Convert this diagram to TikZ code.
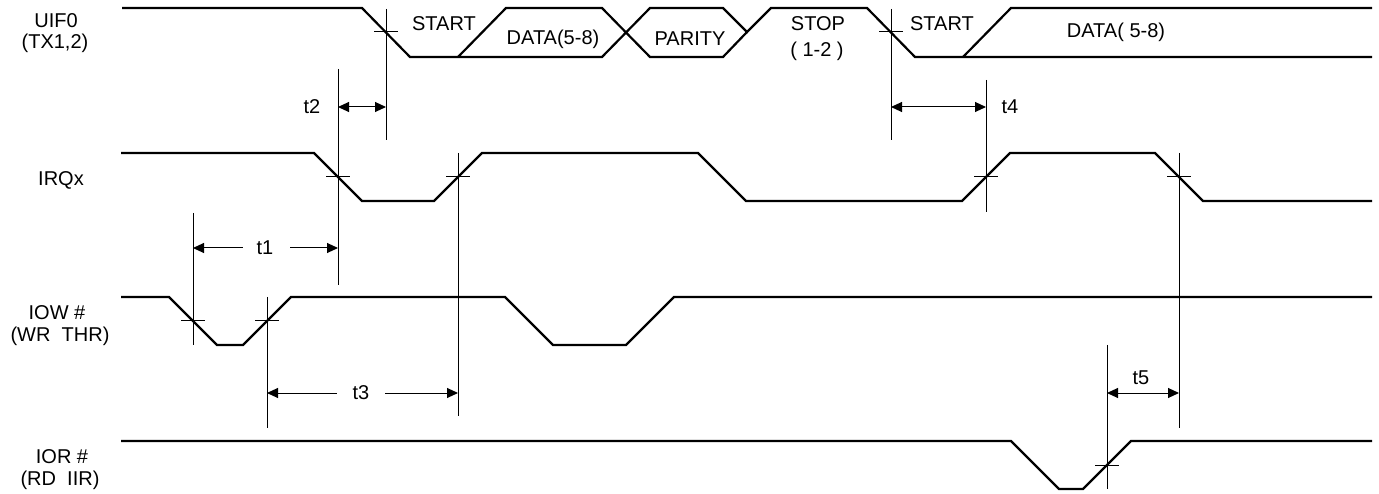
\documentclass[tikz,border=0pt]{standalone}
\usepackage{fontspec}
\setmainfont{Liberation Sans}
\usetikzlibrary{arrows.meta}
\begin{document}
\begin{tikzpicture}[x=1pt,y=-1pt,
  sig/.style={line width=2.2pt, line join=miter},
  guide/.style={line width=1pt},
  tickmark/.style={line width=1pt},
  dimboth/.style={line width=1pt, {Triangle[length=11pt,width=10pt]}-{Triangle[length=11pt,width=10pt]}},
  dimleft/.style={line width=1pt, {Triangle[length=11pt,width=10pt]}-},
  dimright/.style={line width=1pt, -{Triangle[length=11pt,width=10pt]}},
  lbl/.style={font=\fontsize{20}{24}\selectfont, inner sep=0pt},
]
\useasboundingbox (0,0) rectangle (1379,494);

% ---------- signal labels ----------
\node[lbl] (uifA) at (56,21) {UIF0};
\node[lbl] (uifB) at (55,43) {(TX1,2)};
\node[lbl] (irq) at (61,180) {IRQx};
\node[lbl] (iowA) at (57,313) {IOW \#};
\node[lbl] (iowB) at (60,336) {(WR\ \ THR)};
\node[lbl] (iorA) at (62,457) {IOR \#};
\node[lbl] (iorB) at (60,480) {(RD\ \ IIR)};

% ---------- UIF0 ----------
\draw[sig] (122,8) -- (362,8) -- (410,57) -- (458,57) -- (602,57) -- (650,8) -- (723,8) -- (747,32) -- (771,8) -- (867,8) -- (915,57) -- (963,57) -- (1372,57);
\draw[sig] (458,57) -- (506,8) -- (602,8) -- (650,57) -- (723,57) -- (747,32);
\draw[sig] (963,57) -- (1011,8) -- (1372,8);
\node[lbl] (start1) at (444,24) {START};
\node[lbl] (data1) at (553,39) {DATA(5-8)};
\node[lbl] (parity) at (690,39) {PARITY};
\node[lbl] (stop) at (818,24) {STOP};
\node[lbl] (stopn) at (817,51) {( 1-2 )};
\node[lbl] (start2) at (942,24) {START};
\node[lbl] (data2) at (1116,32) {DATA( 5-8)};

% ---------- IRQx ----------
\draw[sig] (121,153) -- (314,153) -- (362,201) -- (434,201) -- (482,153) -- (698,153) -- (746,201) -- (962,201) -- (1010,153) -- (1155,153) -- (1203,201) -- (1372,201);

% ---------- IOW# ----------
\draw[sig] (121,297) -- (169,297) -- (217,345) -- (243,345) -- (291,297) -- (505,297) -- (553,345) -- (626,345) -- (674,297) -- (1372,297);

% ---------- IOR# ----------
\draw[sig] (121,441) -- (1011,441) -- (1059,489) -- (1083,489) -- (1131,441) -- (1372,441);

% ---------- guide lines ----------
\coordinate (gA1) at (386,9);   \coordinate (gA2) at (386,140);
\coordinate (gB1) at (338,69);  \coordinate (gB2) at (338,285);
\coordinate (gC1) at (891,9);   \coordinate (gC2) at (891,140);
\coordinate (gD1) at (986,80);  \coordinate (gD2) at (986,212);
\coordinate (gE1) at (458,153); \coordinate (gE2) at (458,416);
\coordinate (gF1) at (1179,153);\coordinate (gF2) at (1179,428);
\coordinate (gG1) at (193,213); \coordinate (gG2) at (193,345);
\coordinate (gH1) at (267,297); \coordinate (gH2) at (267,428);
\coordinate (gI1) at (1107,345);\coordinate (gI2) at (1107,489);
\foreach \g in {A,B,C,D,E,F,G,H,I} \draw[guide] (g\g1) -- (g\g2);

% ---------- crossing ticks ----------
\foreach \p in {(386,32),(891,32),(338,177),(458,177),(986,177),(1179,177),(193,321),(267,321),(1107,465)}
  \draw[tickmark] \p ++(-12,0) -- ++(24,0);

% ---------- timing dimensions ----------
\coordinate (t2a) at (338,107); \coordinate (t2b) at (386,107);
\draw[dimboth] (t2a) -- (t2b);
\node[lbl] (t2) at (312,107) {t2};

\coordinate (t1a) at (193,248); \coordinate (t1b) at (243,248);
\coordinate (t1c) at (290,248); \coordinate (t1d) at (338,248);
\draw[dimleft] (t1a) -- (t1b);
\draw[dimright] (t1c) -- (t1d);
\node[lbl] (t1) at (265,248) {t1};

\coordinate (t4a) at (891,107); \coordinate (t4b) at (986,107);
\draw[dimboth] (t4a) -- (t4b);
\node[lbl] (t4) at (1010,107) {t4};

\coordinate (t3a) at (267,393); \coordinate (t3b) at (337,393);
\coordinate (t3c) at (385,393); \coordinate (t3d) at (458,393);
\draw[dimleft] (t3a) -- (t3b);
\draw[dimright] (t3c) -- (t3d);
\node[lbl] (t3) at (361,393) {t3};

\coordinate (t5a) at (1107,393); \coordinate (t5b) at (1179,393);
\draw[dimboth] (t5a) -- (t5b);
\node[lbl] (t5) at (1141,378) {t5};
\end{tikzpicture}
\end{document}
